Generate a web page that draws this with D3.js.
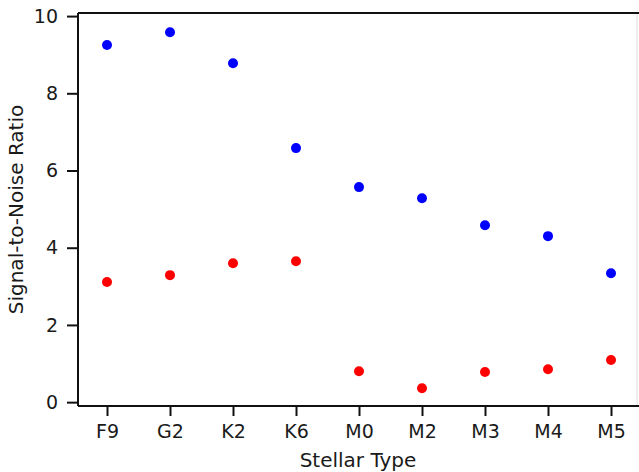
<!DOCTYPE html>
<html>
<head>
  <style>
    body { margin: 0; background: #fff; }
    text { font-family: "DejaVu Sans", sans-serif; }
  </style>
</head>
<body>
  <svg id="svg"></svg>
  <script src="https://d3js.org/d3.v7.min.js"></script>
  <script>
    const types = ["F9", "G2", "K2", "K6", "M0", "M2", "M3", "M4", "M5"];
    const blueSNR = [9.25, 9.58, 8.78, 6.58, 5.57, 5.28, 4.58, 4.30, 3.34];
    const redSNR = [3.11, 3.29, 3.60, 3.65, 0.80, 0.36, 0.78, 0.85, 1.09];
    const yTicks = [0, 2, 4, 6, 8, 10];

    let width = 560, height = 393;
    let margin = { top: 13, right: 1, bottom: 66, left: 78 };

    let svg = d3.select("#svg")
      .attr("width", 639)
      .attr("height", 472);

    let g = svg.append("g").attr("transform", `translate(${margin.left}, ${margin.top})`);

    let xScale = d3.scalePoint().domain(types).range([29, 533]);
    let yScale = d3.scaleLinear().domain([-0.1, 10.08]).range([height, 0]);

    // right spine (faint)
    g.append("line")
      .attr("x1", width - 1).attr("x2", width - 1)
      .attr("y1", 0).attr("y2", height)
      .attr("stroke", "#ddd").attr("stroke-width", 1);

    // top spine
    g.append("line")
      .attr("x1", 0).attr("x2", width + 1)
      .attr("y1", 0).attr("y2", 0)
      .attr("stroke", "#111").attr("stroke-width", 2);

    let xAxis = g.append("g")
      .attr("transform", `translate(0, ${height})`)
      .call(d3.axisBottom(xScale).tickSize(10).tickPadding(9));

    let yAxis = g.append("g")
      .call(d3.axisLeft(yScale).tickValues(yTicks).tickSize(11).tickPadding(9));

    [xAxis, yAxis].forEach(ax => {
      ax.selectAll("text").attr("font-size", 19).attr("fill", "#1a1a1a")
        .attr("font-family", "DejaVu Sans, sans-serif");
      ax.selectAll("line").attr("stroke-width", 2).attr("stroke", "#111");
    });
    xAxis.select(".domain").attr("d", `M0,0H${width + 1}`)
      .attr("stroke-width", 2).attr("stroke", "#111");
    yAxis.select(".domain").attr("d", `M0,${height}V0`)
      .attr("stroke-width", 2).attr("stroke", "#111");

    g.selectAll("circle.blue")
      .data(types)
      .join("circle")
      .attr("class", "blue")
      .attr("cx", d => xScale(d))
      .attr("cy", (d, i) => yScale(blueSNR[i]))
      .attr("r", 5)
      .attr("fill", "#0000ff");

    g.selectAll("circle.red")
      .data(types)
      .join("circle")
      .attr("class", "red")
      .attr("cx", d => xScale(d))
      .attr("cy", (d, i) => yScale(redSNR[i]))
      .attr("r", 5)
      .attr("fill", "#ff0000");

    svg.append("text")
      .attr("x", margin.left + width / 2)
      .attr("y", 467)
      .attr("text-anchor", "middle")
      .attr("font-size", 20)
      .attr("fill", "#1a1a1a")
      .text("Stellar Type");

    svg.append("text")
      .attr("transform", `translate(23, ${margin.top + height / 2}) rotate(-90)`)
      .attr("text-anchor", "middle")
      .attr("font-size", 20)
      .attr("fill", "#1a1a1a")
      .text("Signal-to-Noise Ratio");
  </script>
</body>
</html>
